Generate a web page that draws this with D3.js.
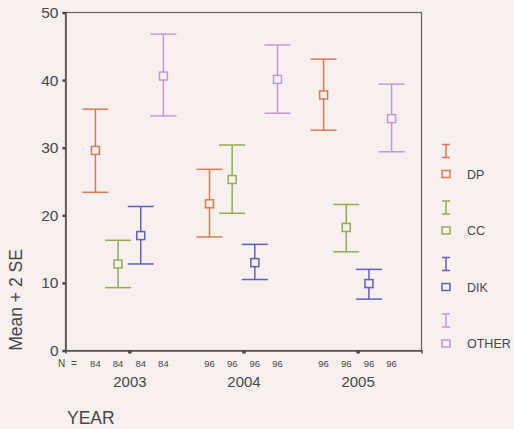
<!DOCTYPE html>
<html>
<head>
<meta charset="utf-8">
<script src="https://cdn.jsdelivr.net/npm/d3@7"></script>
<style>
  body { margin: 0; background: #f7f0ef; }
  svg { display: block; }
  text { font-family: "Liberation Sans", Arial, sans-serif; fill: #4a4646; }
</style>
</head>
<body>
<svg class="canvas"></svg>
<script>
// data
let years = ["2003", "2004", "2005"];
let groups = ["DP", "CC", "DIK", "OTHER"];
let colors = ["#e2784e", "#92ac52", "#5f5fc4", "#c09ad8"];
let nCounts = [84, 96, 96];

// mean, lower, upper (mean +- 2 SE), one row per year, columns in groups order
let means = [[29.6, 12.8, 17.0, 40.6], [21.7, 25.3, 13.0, 40.1], [37.8, 18.2, 9.9, 34.3]];
let lows  = [[23.4, 9.3, 12.8, 34.7], [16.8, 20.3, 10.5, 35.1], [32.6, 14.6, 7.6, 29.4]];
let highs = [[35.7, 16.3, 21.3, 46.8], [26.8, 30.4, 15.7, 45.2], [43.1, 21.6, 12.0, 39.4]];
let yTicks = [0, 10, 20, 30, 40, 50];

let width = 514;
let height = 429;
let plotLeft = 65.5, plotRight = 421.5, plotTop = 12.5, plotBottom = 350.5;

let svg = d3.select(".canvas").attr("width", width).attr("height", height);

let x = d3.scalePoint().domain(years).range([plotLeft, plotRight]).padding(0.56);
let dx = d3.scalePoint().domain(groups).range([-34, 34]);
let y = d3.scaleLinear().domain([0, 50]).range([plotBottom, plotTop]);
let color = d3.scaleOrdinal().domain(groups).range(colors);

// frame
svg.append("rect")
  .attr("x", plotLeft).attr("y", plotTop)
  .attr("width", plotRight - plotLeft).attr("height", plotBottom - plotTop)
  .attr("fill", "none").attr("stroke", "#6a6262").attr("stroke-width", 1.2);

// y axis
let yAxis = svg.append("g")
  .attr("transform", "translate(" + plotLeft + ",0)")
  .call(d3.axisLeft(y).tickValues(yTicks).tickSize(3).tickPadding(4));
yAxis.select(".domain").attr("stroke", "#5a5252").attr("stroke-width", 1.6);
yAxis.selectAll(".tick line").attr("stroke", "#4a4444").attr("stroke-width", 2.5);
yAxis.selectAll(".tick text").attr("font-size", 15.5).attr("fill", "#4a4646");

// x axis
let xAxis = svg.append("g")
  .attr("transform", "translate(0," + plotBottom + ")")
  .call(d3.axisBottom(x).tickSize(3).tickPadding(23));
xAxis.select(".domain").attr("stroke", "#5a5252").attr("stroke-width", 1.6);
xAxis.selectAll(".tick line").attr("stroke", "#4a4444").attr("stroke-width", 3.5);
xAxis.selectAll(".tick text").attr("font-size", 15).attr("fill", "#4a4646");

// N row
svg.append("text").attr("x", 58).attr("y", 367).attr("font-size", 10)
  .attr("letter-spacing", 1.5).text("N =");
years.forEach(function(yr, i) {
  groups.forEach(function(g) {
    svg.append("text")
      .attr("x", x(yr) + dx(g)).attr("y", 367)
      .attr("text-anchor", "middle").attr("font-size", 9.5)
      .text(nCounts[i]);
  });
});

// error bars
let rows = [];
years.forEach(function(yr, i) {
  groups.forEach(function(g, j) {
    rows.push({year: yr, group: g, mean: means[i][j], lo: lows[i][j], hi: highs[i][j]});
  });
});

let cap = 13, box = 4;
let bars = svg.append("g").selectAll("g").data(rows).enter().append("g")
  .attr("stroke", function(d) { return color(d.group); })
  .attr("stroke-width", 1.5)
  .attr("fill", "none");
bars.append("line")
  .attr("x1", function(d) { return x(d.year) + dx(d.group); })
  .attr("x2", function(d) { return x(d.year) + dx(d.group); })
  .attr("y1", function(d) { return y(d.lo); })
  .attr("y2", function(d) { return y(d.hi); });
bars.append("line")
  .attr("x1", function(d) { return x(d.year) + dx(d.group) - cap; })
  .attr("x2", function(d) { return x(d.year) + dx(d.group) + cap; })
  .attr("y1", function(d) { return y(d.hi); })
  .attr("y2", function(d) { return y(d.hi); });
bars.append("line")
  .attr("x1", function(d) { return x(d.year) + dx(d.group) - cap; })
  .attr("x2", function(d) { return x(d.year) + dx(d.group) + cap; })
  .attr("y1", function(d) { return y(d.lo); })
  .attr("y2", function(d) { return y(d.lo); });
bars.append("rect")
  .attr("x", function(d) { return x(d.year) + dx(d.group) - box; })
  .attr("y", function(d) { return y(d.mean) - box; })
  .attr("width", box * 2).attr("height", box * 2)
  .attr("fill", "#f7f0ef");

// legend
let legend = svg.append("g").attr("transform", "translate(446,0)");
groups.forEach(function(g, i) {
  let y0 = 151 + i * 56.5;
  let c = color(g);
  let lg = legend.append("g").attr("stroke", c).attr("stroke-width", 1.5).attr("fill", "none");
  lg.append("line").attr("x1", 0).attr("x2", 0).attr("y1", y0 - 6.5).attr("y2", y0 + 6.5);
  lg.append("line").attr("x1", -4).attr("x2", 4).attr("y1", y0 - 6.5).attr("y2", y0 - 6.5);
  lg.append("line").attr("x1", -4).attr("x2", 4).attr("y1", y0 + 6.5).attr("y2", y0 + 6.5);
  lg.append("rect").attr("x", -4).attr("y", y0 + 23 - 3.5).attr("width", 8).attr("height", 7);
  legend.append("text").attr("x", 21).attr("y", y0 + 27.5).attr("font-size", 12.5).text(g);
});

// axis titles
svg.append("text")
  .attr("transform", "translate(22,300) rotate(-90)")
  .attr("text-anchor", "middle").attr("font-size", 17.5)
  .text("Mean + 2 SE");
svg.append("text").attr("x", 67).attr("y", 424).attr("font-size", 17.5).text("YEAR");
</script>
</body>
</html>
